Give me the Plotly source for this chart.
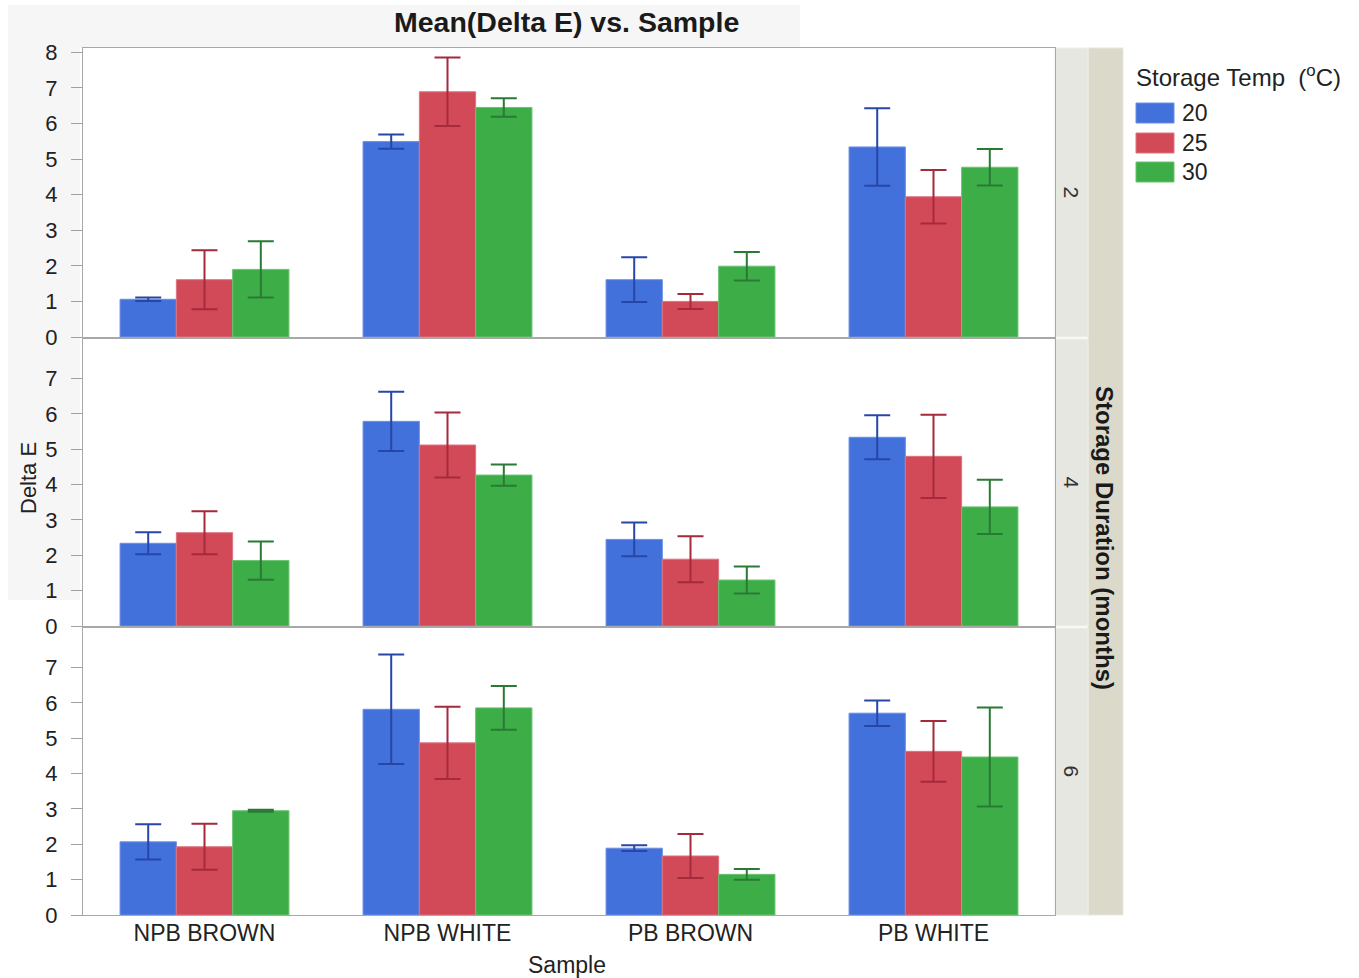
import plotly.graph_objects as go
from plotly.subplots import make_subplots

samples = ["NPB BROWN", "NPB WHITE", "PB BROWN", "PB WHITE"]
durations = ["2", "4", "6"]
temps = ["20", "25", "30"]

# Mean Delta E (per sample) and error half-widths, by duration (months) and temp (C)
mean_2m_20 = [1.06, 5.49, 1.61, 5.34]
mean_2m_25 = [1.61, 6.89, 1.00, 3.94]
mean_2m_30 = [1.90, 6.45, 1.99, 4.77]
err_2m_20 = [0.05, 0.20, 0.63, 1.09]
err_2m_25 = [0.83, 0.96, 0.21, 0.75]
err_2m_30 = [0.79, 0.26, 0.40, 0.51]

mean_4m_20 = [2.34, 5.79, 2.45, 5.34]
mean_4m_25 = [2.64, 5.12, 1.89, 4.80]
mean_4m_30 = [1.85, 4.27, 1.30, 3.37]
err_4m_20 = [0.31, 0.84, 0.48, 0.62]
err_4m_25 = [0.61, 0.92, 0.65, 1.18]
err_4m_30 = [0.54, 0.30, 0.38, 0.77]

mean_6m_20 = [2.07, 5.82, 1.89, 5.71]
mean_6m_25 = [1.93, 4.87, 1.67, 4.63]
mean_6m_30 = [2.95, 5.86, 1.15, 4.47]
err_6m_20 = [0.50, 1.55, 0.08, 0.36]
err_6m_25 = [0.65, 1.02, 0.62, 0.86]
err_6m_30 = [0.03, 0.62, 0.15, 1.40]

means = [[mean_2m_20, mean_2m_25, mean_2m_30],
         [mean_4m_20, mean_4m_25, mean_4m_30],
         [mean_6m_20, mean_6m_25, mean_6m_30]]
errs = [[err_2m_20, err_2m_25, err_2m_30],
        [err_4m_20, err_4m_25, err_4m_30],
        [err_6m_20, err_6m_25, err_6m_30]]

bar_colors = ["#4271DB", "#D24A58", "#3DAE47"]
edge_colors = ["#6D8FE4", "#DD7480", "#6AC272"]
err_colors = ["#2747A8", "#A52A3B", "#2A7A35"]

W, H = 1359, 978
FONT = "Liberation Sans, Arial, sans-serif"

def px(x):
    return x / W

def py(y):
    return 1 - y / H

panel_px = [(48, 337), (339, 626), (628, 915)]
x0p, x1p = 83, 1055

fig = make_subplots(rows=3, cols=1, shared_xaxes=True, vertical_spacing=0.002)

for r in range(3):
    for t in range(3):
        fig.add_trace(go.Bar(
            x=samples, y=means[r][t], name=temps[t],
            marker=dict(color=bar_colors[t], line=dict(color=edge_colors[t], width=1)),
            error_y=dict(type="data", array=errs[r][t], color=err_colors[t],
                         thickness=2, width=13),
            showlegend=False,
        ), row=r + 1, col=1)

fig.update_layout(
    width=W, height=H,
    margin=dict(l=0, r=0, t=0, b=0, pad=0, autoexpand=False),
    paper_bgcolor="white", plot_bgcolor="white",
    barmode="group", bargap=0.305, bargroupgap=0,
    font=dict(family=FONT, size=22, color="#222222"),
    showlegend=False,
)

for r in range(3):
    top, bot = panel_px[r]
    yname = "yaxis" if r == 0 else f"yaxis{r+1}"
    xname = "xaxis" if r == 0 else f"xaxis{r+1}"
    fig.layout[yname].update(
        domain=[py(bot), py(top)], range=[0, 8.12], automargin=False,
        tickvals=list(range(0, 9 if r == 0 else 8)),
        ticks="outside", ticklen=11, tickcolor="#A0A0A0", tickwidth=1,
        showline=True, linecolor="#A8A8A8", linewidth=1, mirror=True,
        showgrid=False, zeroline=False,
        tickfont=dict(size=22, color="#222222"),
        ticklabelstandoff=9,
    )
    fig.layout[xname].update(
        domain=[px(x0p), px(x1p)], automargin=False,
        showline=True, linecolor="#A8A8A8", linewidth=1, mirror=True,
        showgrid=False, ticks="",
        tickfont=dict(size=23, color="#222222"),
    )

fig.layout.xaxis3.update(showticklabels=True, ticklabelstandoff=-3)

shapes = []
# light gray background bands (title band and left band)
shapes.append(dict(type="rect", xref="paper", yref="paper",
                   x0=px(8), x1=px(800), y0=py(48), y1=py(5),
                   fillcolor="#F6F6F6", line=dict(width=0), layer="below"))
shapes.append(dict(type="rect", xref="paper", yref="paper",
                   x0=px(8), x1=px(80), y0=py(600), y1=py(48),
                   fillcolor="#F6F6F6", line=dict(width=0), layer="below"))
# outer strip
shapes.append(dict(type="rect", xref="paper", yref="paper",
                   x0=px(1088), x1=px(1123), y0=py(915), y1=py(48),
                   fillcolor="#DBD9CA", line=dict(color="#E8E7DF", width=1), layer="below"))
annotations = []
for r in range(3):
    top, bot = panel_px[r]
    shapes.append(dict(type="rect", xref="paper", yref="paper",
                       x0=px(1055), x1=px(1088), y0=py(bot), y1=py(top),
                       fillcolor="#E7E7E1", line=dict(color="#F0F0EC", width=1), layer="below"))
    annotations.append(dict(x=px(1071), y=py((top + bot) / 2), xref="paper", yref="paper",
                            xanchor="center", yanchor="middle",
                            text=durations[r], showarrow=False, textangle=90,
                            font=dict(size=21, color="#333333")))

annotations.append(dict(x=px(1105), y=py(538), xref="paper", yref="paper",
                        xanchor="center", yanchor="middle",
                        text="<b>Storage Duration (months)</b>", showarrow=False, textangle=90,
                        font=dict(size=24, color="#1A1A1A")))
annotations.append(dict(x=px(566), y=py(22), xref="paper", yref="paper",
                        xanchor="center", yanchor="middle",
                        text="<b>Mean(Delta E) vs. Sample</b>", showarrow=False,
                        font=dict(size=28.5, color="#1A1A1A")))
annotations.append(dict(x=px(28), y=py(478), xref="paper", yref="paper",
                        xanchor="center", yanchor="middle",
                        text="Delta E", showarrow=False, textangle=-90,
                        font=dict(size=22, color="#222222")))
annotations.append(dict(x=px(567), y=py(965), xref="paper", yref="paper",
                        xanchor="center", yanchor="middle",
                        text="Sample", showarrow=False,
                        font=dict(size=23, color="#222222")))

# legend (drawn from temps / bar_colors)
annotations.append(dict(x=px(1134), y=py(76), xref="paper", yref="paper",
                        xanchor="left", yanchor="middle",
                        text="Storage Temp\u00a0 (<sup>o</sup>C)", showarrow=False,
                        font=dict(size=24, color="#222222")))
leg_y = [113, 143, 172]
for i, t in enumerate(temps):
    shapes.append(dict(type="rect", xref="paper", yref="paper",
                       x0=px(1136), x1=px(1174), y0=py(leg_y[i] + 10), y1=py(leg_y[i] - 10),
                       fillcolor=bar_colors[i], line=dict(color=edge_colors[i], width=1)))
    annotations.append(dict(x=px(1180), y=py(leg_y[i]), xref="paper", yref="paper",
                            xanchor="left", yanchor="middle", text=t, showarrow=False,
                            font=dict(size=23, color="#222222")))

fig.update_layout(shapes=shapes, annotations=annotations)
fig.write_html("out.html")
